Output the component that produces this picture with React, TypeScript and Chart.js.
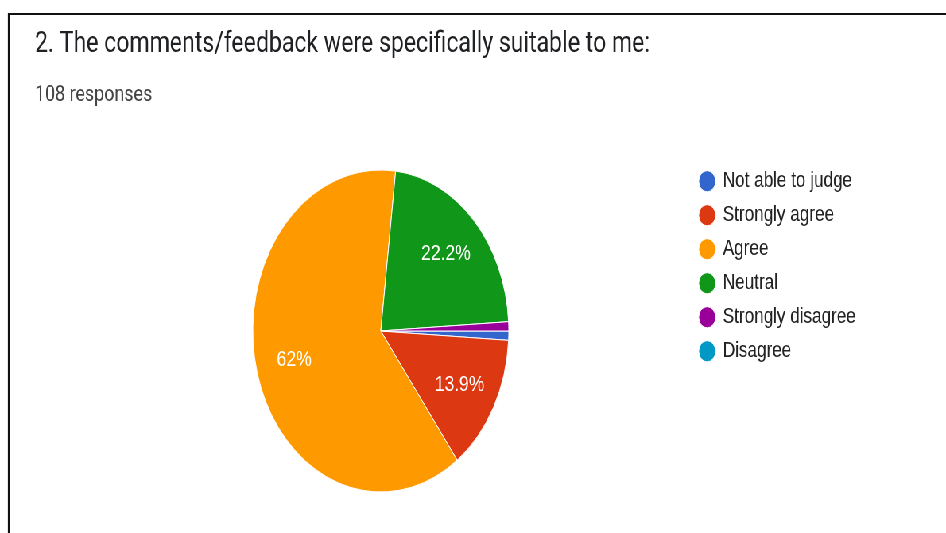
import React, { useEffect, useRef } from "react";
import { Chart, registerables } from "chart.js";

Chart.register(...registerables);

// ---- data ----
const TITLE = "2. The comments/feedback were specifically suitable to me:";
const SUBTITLE = "108 responses";
const labels = [
  "Not able to judge",
  "Strongly agree",
  "Agree",
  "Neutral",
  "Strongly disagree",
  "Disagree",
];
const counts = [1, 15, 67, 24, 1, 0];
const colors = ["#3366cc", "#dc3912", "#ff9900", "#109618", "#990099", "#0099c6"];

// ---- layout (unsqueezed canvas, squeezed horizontally like the reference) ----
const W = 1190;
const H = 533;
const SQUEEZE = 946 / W;
const LEGEND_FONT = 21.5;
const LEGEND_PAD = 12.5;
const LEGEND_BOX_W = 18;
const LEGEND_LEFT = 866;
const ARIAL = "Arial, 'Liberation Sans', sans-serif";

function fmtPct(p: number): string {
  let s = p.toFixed(1);
  if (s.endsWith(".0")) s = s.slice(0, -2);
  return s + "%";
}

const headerPlugin = {
  id: "header",
  beforeDraw(chart: any) {
    const ctx = chart.ctx as CanvasRenderingContext2D;
    ctx.save();
    ctx.fillStyle = "#ffffff";
    ctx.fillRect(0, 0, W, H);
    ctx.strokeStyle = "#111111";
    ctx.lineWidth = 2;
    ctx.beginPath();
    ctx.moveTo(10, 14);
    ctx.lineTo(W, 14);
    ctx.stroke();
    ctx.lineWidth = 2.2;
    ctx.beginPath();
    ctx.moveTo(11, 13);
    ctx.lineTo(11, H);
    ctx.stroke();
    ctx.textAlign = "left";
    ctx.textBaseline = "alphabetic";
    ctx.font = "29px Roboto";
    ctx.fillStyle = "#202124";
    ctx.fillText(TITLE, 44, 52);
    ctx.font = "22.5px Roboto";
    ctx.fillStyle = "#444444";
    ctx.fillText(SUBTITLE, 44, 101);
    ctx.restore();
  },
};

const pctPlugin = {
  id: "pct",
  afterDatasetsDraw(chart: any) {
    const ctx = chart.ctx as CanvasRenderingContext2D;
    const data = chart.data.datasets[0].data as number[];
    const total = data.reduce((a, b) => a + b, 0);
    const meta = chart.getDatasetMeta(0);
    ctx.save();
    ctx.font = `22px ${ARIAL}`;
    ctx.fillStyle = "#ffffff";
    ctx.textAlign = "center";
    ctx.textBaseline = "middle";
    meta.data.forEach((arc: any, i: number) => {
      const pct = (data[i] / total) * 100;
      if (pct < 5) return;
      const { x, y, startAngle, endAngle, outerRadius } = arc.getProps(
        ["x", "y", "startAngle", "endAngle", "outerRadius"],
        true
      );
      const mid = (startAngle + endAngle) / 2;
      const r = outerRadius * 0.7;
      ctx.fillText(fmtPct(pct), x + Math.cos(mid) * r, y + Math.sin(mid) * r);
    });
    ctx.restore();
  },
};

export default function App() {
  const ref = useRef<HTMLCanvasElement | null>(null);

  useEffect(() => {
    if (!ref.current) return;
    const m = document.createElement("canvas").getContext("2d")!;
    m.font = `${LEGEND_FONT}px ${ARIAL}`;
    const tw = Math.max(...labels.map((l) => m.measureText(l).width));
    const legendW = LEGEND_PAD + LEGEND_BOX_W + LEGEND_FONT / 2 + tw + 12;
    const padRight = Math.max(0, W - LEGEND_LEFT - legendW);

    const chart = new Chart(ref.current, {
      type: "pie",
      data: {
        labels,
        datasets: [
          {
            data: counts,
            backgroundColor: colors,
            borderColor: "#ffffff",
            borderWidth: 1,
            radius: 161,
          } as any,
        ],
      },
      options: {
        responsive: false,
        animation: false,
        rotation: 90,
        layout: { padding: { top: 158, bottom: 29, left: 90, right: padRight } },
        plugins: {
          legend: {
            position: "right",
            align: "start",
            labels: {
              usePointStyle: true,
              pointStyle: "circle",
              boxWidth: LEGEND_BOX_W,
              boxHeight: 15,
              padding: LEGEND_PAD,
              color: "#222222",
              font: { family: ARIAL, size: LEGEND_FONT },
            },
          },
          tooltip: { enabled: false },
        },
      } as any,
      plugins: [headerPlugin, pctPlugin],
    });
    return () => chart.destroy();
  }, []);

  return (
    <div
      style={{
        position: "fixed",
        left: 0,
        top: 0,
        width: W,
        height: H,
        transform: `scaleX(${SQUEEZE})`,
        transformOrigin: "0 0",
        background: "#fff",
      }}
    >
      <canvas ref={ref} width={W} height={H} style={{ display: "block" }} />
    </div>
  );
}
